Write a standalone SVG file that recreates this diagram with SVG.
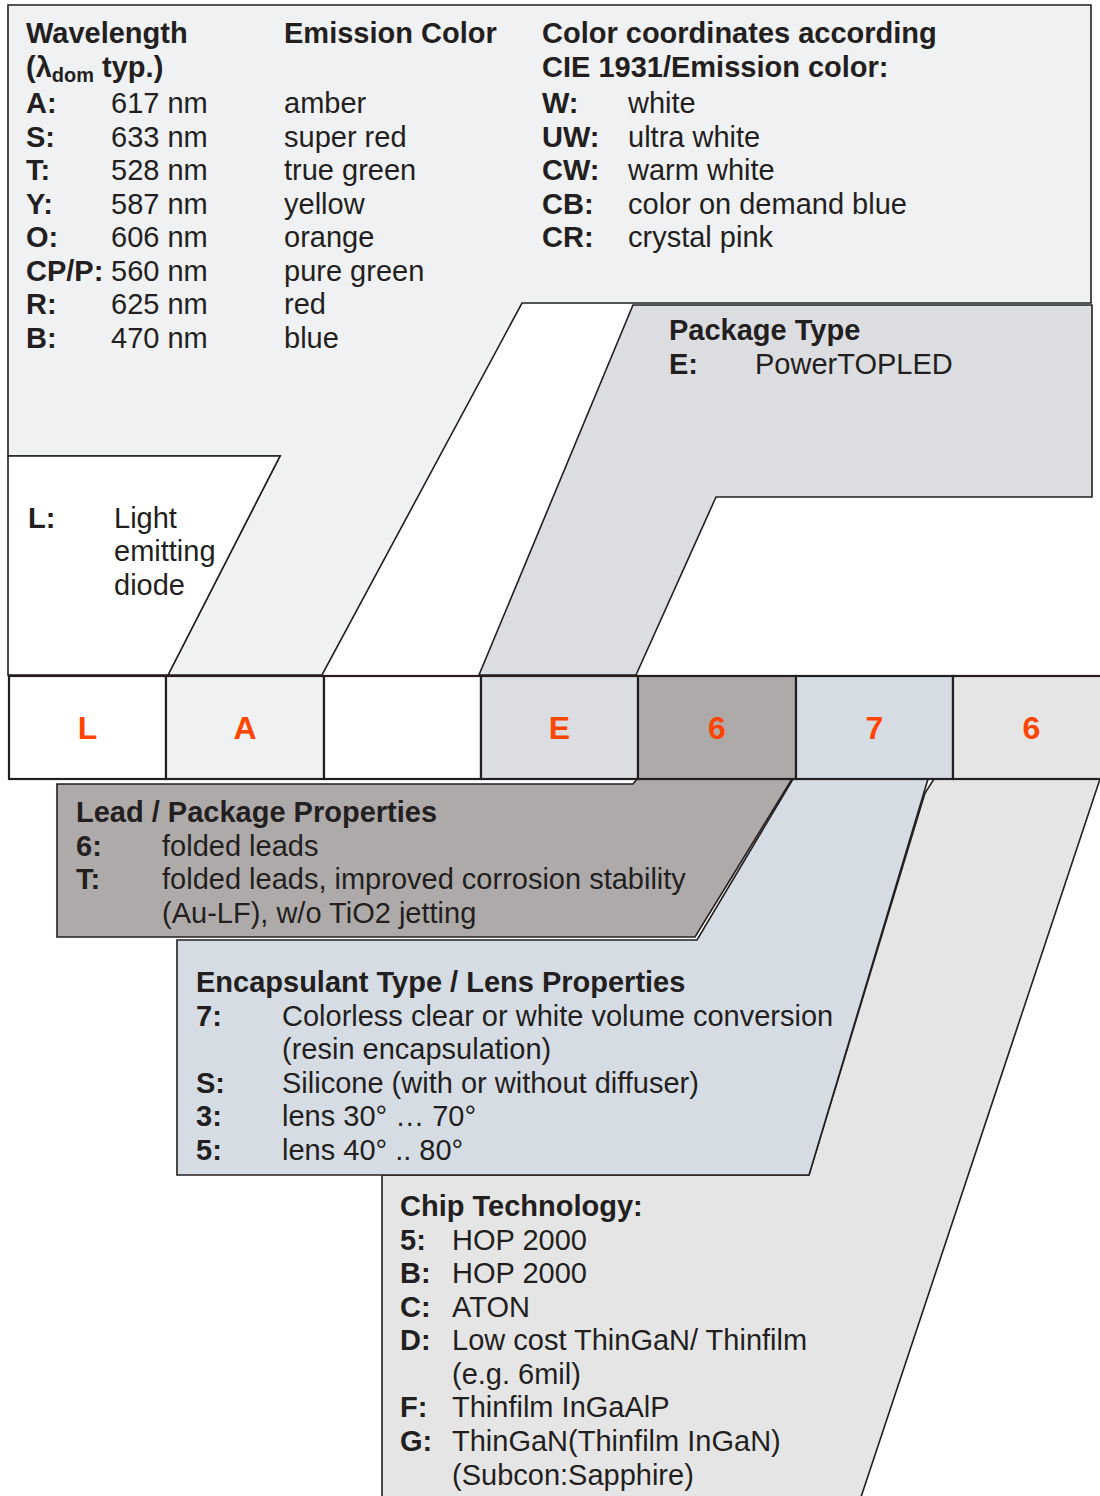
<svg xmlns="http://www.w3.org/2000/svg" width="1100" height="1496" viewBox="0 0 1100 1496">
<style>
.t{font-family:"Liberation Sans",Arial,sans-serif;font-size:29px;fill:#231f20}
.b{font-weight:bold}
.code{font-family:"Liberation Sans",Arial,sans-serif;font-size:32px;font-weight:bold;fill:#ff4500;text-anchor:middle}
.sh{stroke:#231f20;stroke-width:1.6;stroke-linejoin:miter}
.cell{stroke:#231f20;stroke-width:2.2}
</style>
<rect width="1100" height="1496" fill="#ffffff"/>

<g id="chip-technology">
<polygon class="sh" fill="#e5e5e5" points="934,779 1100,779 861,1497 382,1497 382,1175 809,1175 925,793"/>
<text class="t b" x="400" y="1216">Chip Technology:</text>
<text class="t" y="1250"><tspan class="b" x="400">5:</tspan><tspan x="452">HOP 2000</tspan></text>
<text class="t" y="1283"><tspan class="b" x="400">B:</tspan><tspan x="452">HOP 2000</tspan></text>
<text class="t" y="1317"><tspan class="b" x="400">C:</tspan><tspan x="452">ATON</tspan></text>
<text class="t" y="1350"><tspan class="b" x="400">D:</tspan><tspan x="452">Low cost ThinGaN/ Thinfilm</tspan></text>
<text class="t" x="452" y="1384">(e.g. 6mil)</text>
<text class="t" y="1417"><tspan class="b" x="400">F:</tspan><tspan x="452">Thinfilm InGaAlP</tspan></text>
<text class="t" y="1451"><tspan class="b" x="400">G:</tspan><tspan x="452">ThinGaN(Thinfilm InGaN)</tspan></text>
<text class="t" x="452" y="1485">(Subcon:Sapphire)</text>
</g>

<g id="encapsulant">
<polygon class="sh" fill="#d5dce4" points="177,940 697,940 793,779 928,779 809,1175 177,1175"/>
<text class="t b" x="196" y="992">Encapsulant Type / Lens Properties</text>
<text class="t" y="1026"><tspan class="b" x="196">7:</tspan><tspan x="282">Colorless clear or white volume conversion</tspan></text>
<text class="t" x="282" y="1059">(resin encapsulation)</text>
<text class="t" y="1093"><tspan class="b" x="196">S:</tspan><tspan x="282">Silicone (with or without diffuser)</tspan></text>
<text class="t" y="1126"><tspan class="b" x="196">3:</tspan><tspan x="282">lens 30° … 70°</tspan></text>
<text class="t" y="1160"><tspan class="b" x="196">5:</tspan><tspan x="282">lens 40° .. 80°</tspan></text>
</g>

<g id="lead-package">
<polygon class="sh" fill="#aeaaa9" stroke-width="2" points="57,784 633,784 637,779 792,779 695,937 57,937"/>
<text class="t b" x="76" y="822">Lead / Package Properties</text>
<text class="t" y="856"><tspan class="b" x="76">6:</tspan><tspan x="162">folded leads</tspan></text>
<text class="t" y="889"><tspan class="b" x="76">T:</tspan><tspan x="162">folded leads, improved corrosion stability</tspan></text>
<text class="t" x="162" y="923">(Au-LF), w/o TiO2 jetting</text>
</g>

<g id="wavelength-color">
<polygon class="sh" fill="#f0f1f3" points="8,5 1091,5 1091,303 522,303 322,675 168,675 280,456 8,456"/>
<text class="t b" x="26" y="43">Wavelength</text>
<text class="t b" x="26" y="77">(λ<tspan font-size="20" dy="5">dom</tspan><tspan dy="-5"> typ.)</tspan></text>
<text class="t b" x="284" y="43">Emission Color</text>
<text class="t b" x="542" y="43">Color coordinates according</text>
<text class="t b" x="542" y="77">CIE 1931/Emission color:</text>
<text class="t" y="113"><tspan class="b" x="26">A:</tspan><tspan x="111">617 nm</tspan><tspan x="284">amber</tspan><tspan class="b" x="542">W:</tspan><tspan x="628">white</tspan></text>
<text class="t" y="147"><tspan class="b" x="26">S:</tspan><tspan x="111">633 nm</tspan><tspan x="284">super red</tspan><tspan class="b" x="542">UW:</tspan><tspan x="628">ultra white</tspan></text>
<text class="t" y="180"><tspan class="b" x="26">T:</tspan><tspan x="111">528 nm</tspan><tspan x="284">true green</tspan><tspan class="b" x="542">CW:</tspan><tspan x="628">warm white</tspan></text>
<text class="t" y="214"><tspan class="b" x="26">Y:</tspan><tspan x="111">587 nm</tspan><tspan x="284">yellow</tspan><tspan class="b" x="542">CB:</tspan><tspan x="628">color on demand blue</tspan></text>
<text class="t" y="247"><tspan class="b" x="26">O:</tspan><tspan x="111">606 nm</tspan><tspan x="284">orange</tspan><tspan class="b" x="542">CR:</tspan><tspan x="628">crystal pink</tspan></text>
<text class="t" y="281"><tspan class="b" x="26">CP/P:</tspan><tspan x="111">560 nm</tspan><tspan x="284">pure green</tspan></text>
<text class="t" y="314"><tspan class="b" x="26">R:</tspan><tspan x="111">625 nm</tspan><tspan x="284">red</tspan></text>
<text class="t" y="348"><tspan class="b" x="26">B:</tspan><tspan x="111">470 nm</tspan><tspan x="284">blue</tspan></text>
</g>

<g id="light-emitting-diode">
<polygon class="sh" fill="#ffffff" points="8,456 280,456 168,675 8,675"/>
<text class="t b" x="28" y="528">L:</text>
<text class="t" x="114" y="528">Light</text>
<text class="t" x="114" y="561">emitting</text>
<text class="t" x="114" y="595">diode</text>
</g>

<g id="package-type">
<polygon class="sh" fill="#dcdde0" points="633,305 1092,305 1092,497 716,497 636,675 479,675"/>
<text class="t b" x="669" y="340">Package Type</text>
<text class="t" y="374"><tspan class="b" x="669">E:</tspan><tspan x="755">PowerTOPLED</tspan></text>
</g>

<g id="code-strip">
<rect class="cell" x="9" y="676" width="157" height="103" fill="#ffffff"/>
<rect class="cell" x="166" y="676" width="158" height="103" fill="#f0f1f3"/>
<rect class="cell" x="324" y="676" width="157" height="103" fill="#ffffff"/>
<rect class="cell" x="481" y="676" width="157" height="103" fill="#dcdde0"/>
<rect class="cell" x="638" y="676" width="158" height="103" fill="#aeaaa9"/>
<rect class="cell" x="796" y="676" width="157" height="103" fill="#d5dce4"/>
<rect class="cell" x="953" y="676" width="160" height="103" fill="#e5e5e5"/>
<text class="code" x="87.5" y="739">L</text>
<text class="code" x="245" y="739">A</text>
<text class="code" x="559.5" y="739">E</text>
<text class="code" x="717" y="739">6</text>
<text class="code" x="874.5" y="739">7</text>
<text class="code" x="1031.5" y="739">6</text>
</g>
</svg>
